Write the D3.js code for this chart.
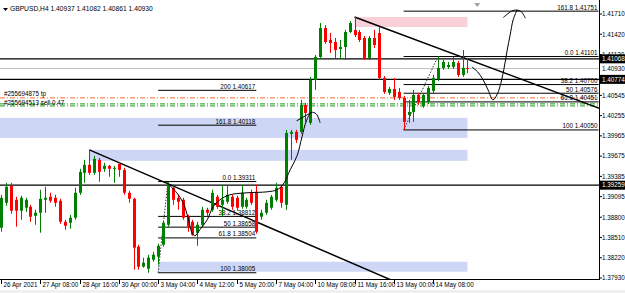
<!DOCTYPE html>
<html><head><meta charset="utf-8">
<script src="https://cdn.jsdelivr.net/npm/d3@7"></script>
<style>body{margin:0;background:#fff;} svg{display:block;font-family:"Liberation Sans",Arial,sans-serif;}</style>
</head><body><svg id="c" width="625" height="293"></svg>
<script>
// ---- data ----
const symbolTitle = "GBPUSD,H4";
const lastOHLC = [1.40937, 1.41082, 1.40861, 1.40930];
const opens = [1.38650,1.39007,1.39250,1.39050,1.38893,1.38936,1.38950,1.38821,1.38864,1.39050,
1.39093,1.39079,1.39036,1.38735,1.38721,1.38793,1.39150,1.39436,1.39550,1.39436,
1.39622,1.39493,1.39536,1.39493,1.39565,1.39479,1.39150,1.39064,1.38378,1.38092,
1.38063,1.38192,1.38235,1.38406,1.38692,1.39222,1.39079,1.39050,1.38807,1.38735,
1.38578,1.38692,1.38907,1.38907,1.39093,1.38978,1.39021,1.39093,1.39079,1.38950,
1.38950,1.39150,1.39164,1.38807,1.38864,1.38936,1.39050,1.39236,1.38978,1.39994,
1.40022,1.40022,1.40408,1.40151,1.40766,1.41095,1.41510,1.41338,1.41309,1.41209,
1.41238,1.41452,1.41481,1.41452,1.41367,1.41081,1.41367,1.41438,1.40795,1.40580,
1.40637,1.40594,1.40509,1.40265,1.40308,1.40551,1.40394,1.40451,1.40609,1.40780,
1.40938,1.40952,1.40952,1.41009,1.40837,1.40937];
const highs = [1.39121,1.39293,1.39293,1.39093,1.39107,1.39079,1.38978,1.38907,1.39193,1.39236,
1.39150,1.39121,1.39064,1.38764,1.38835,1.39222,1.39493,1.39622,1.39765,1.39679,
1.39651,1.39579,1.39550,1.39536,1.39593,1.39508,1.39179,1.39079,1.38406,1.38221,
1.38263,1.38306,1.38421,1.38750,1.39311,1.39250,1.39121,1.39079,1.38835,1.38764,
1.38735,1.38950,1.38936,1.39193,1.39121,1.39264,1.39264,1.39121,1.39107,1.39264,
1.39079,1.39193,1.39264,1.38907,1.39050,1.39121,1.39293,1.39264,1.40051,1.40051,
1.40051,1.40480,1.40437,1.40809,1.41123,1.41581,1.41552,1.41438,1.41367,1.41338,
1.41481,1.41610,1.41667,1.41481,1.41395,1.41395,1.41481,1.41524,1.40823,1.40666,
1.40795,1.40652,1.40537,1.40480,1.40623,1.40580,1.40580,1.40680,1.40837,1.41101,
1.41052,1.41023,1.41095,1.41038,1.41195,1.41082];
const lows = [1.38592,1.38964,1.38850,1.38664,1.38764,1.38878,1.38735,1.38692,1.38578,1.38864,
1.39007,1.38950,1.38707,1.38621,1.38635,1.38764,1.39121,1.39293,1.39407,1.39407,
1.39307,1.39450,1.39379,1.39293,1.39379,1.39121,1.39007,1.38049,1.38049,1.38078,
1.38005,1.38163,1.38120,1.38378,1.38664,1.38978,1.38907,1.38764,1.38592,1.38535,
1.38392,1.38664,1.38821,1.38878,1.38921,1.38807,1.38993,1.38907,1.38893,1.38921,
1.38921,1.38978,1.38564,1.38764,1.38835,1.38907,1.39021,1.38936,1.38907,1.39622,
1.39865,1.39994,1.40165,1.40122,1.40623,1.41066,1.41281,1.41152,1.41081,1.41066,
1.41052,1.41438,1.41381,1.41309,1.41052,1.41052,1.41224,1.40766,1.40566,1.40551,
1.40480,1.40480,1.40050,1.40151,1.40165,1.40408,1.40366,1.40423,1.40580,1.40752,
1.40909,1.40923,1.40923,1.40809,1.40809,1.40861];
const closes = [1.39079,1.39236,1.38893,1.38893,1.39079,1.39050,1.38807,1.38864,1.39064,1.39079,
1.39036,1.39007,1.38735,1.38678,1.38793,1.39150,1.39450,1.39550,1.39436,1.39636,
1.39450,1.39536,1.39493,1.39508,1.39479,1.39150,1.39064,1.38364,1.38092,1.38149,
1.38221,1.38263,1.38392,1.38721,1.39264,1.39050,1.39021,1.38793,1.38664,1.38549,
1.38692,1.38907,1.38864,1.39150,1.38950,1.39050,1.39121,1.38950,1.38936,1.39150,
1.39050,1.39007,1.38592,1.38864,1.39007,1.39093,1.39222,1.39007,1.40008,1.40022,
1.39908,1.40408,1.40294,1.40766,1.41095,1.41510,1.41309,1.41295,1.41195,1.41238,
1.41452,1.41581,1.41409,1.41338,1.41081,1.41367,1.41266,1.40795,1.40594,1.40637,
1.40523,1.40509,1.40165,1.40308,1.40551,1.40451,1.40551,1.40652,1.40795,1.40938,
1.41023,1.40980,1.41023,1.40837,1.40938,1.40930];

const timeTickBars = [0,8,16,24,32,40,48,56,64,72,80,88];
const timeTickLabels = ["26 Apr 2021","27 Apr 08:00","28 Apr 16:00","30 Apr 00:00","3 May 04:00","4 May 12:00","5 May 20:00","7 May 04:00","10 May 08:00","11 May 16:00","13 May 00:00","14 May 08:00"];
const priceTicks = [1.41710,1.41420,1.41130,1.40545,1.40255,1.39965,1.39675,1.39385,1.39095,1.38800,1.38510,1.38220,1.37930];

// horizontal levels
const hLinePrices = [1.41068, 1.40774, 1.39259];
const bidPrice = 1.40930;
const tpPrice = 1.40509, tpLabel = "#255694875 tp";
const orderPrices = [1.40423, 1.40394], orderLabel = "#255694513 sell 0.47";

// zones
const zoneStart = [-1, 18, 32, 72];
const zoneEnd = [95, 95, 95, 95];
const zoneTop = [1.40223, 1.39765, 1.38163, 1.41667];
const zoneBottom = [1.39937, 1.39608, 1.38020, 1.41524];
const zoneKind = ["blue","blue","blue","pink"];

// trend lines [bar1, price1, bar2, price2]
const trendA = [18, 1.39765, 79.5, 1.37900];
const trendB = [72, 1.41667, 122, 1.40355];

// fibonacci
const fibLeft = {bar100: 32, bar0: 34, p100: 1.38005, p0: 1.39311, end: 52, levels: [0,38.2,50,61.8,100,161.8,200]};
const fibRight = {bar100: 82, bar0: 89, p100: 1.40050, p0: 1.41101, end: 121.7, levels: [0,38.2,50,61.8,100,161.8]};

// hand-drawn paths [bar, price]
const sketchA = [[33.8,1.39293],[35.8,1.39150],[37.1,1.39007],[38.1,1.38793],[38.9,1.38578],[39.5,1.38535],[40.5,1.38621],[42,1.38764],[43.2,1.38950],[44.6,1.39050],[46.6,1.39121],[50.1,1.39150],[54.2,1.39164],[56.2,1.39193],[57.4,1.39264],[58.9,1.39479],[60.3,1.39680],[61.3,1.39950],[62.2,1.40180],[63.2,1.40300],[64.2,1.40280],[65,1.40151]];
const sketchA2 = [[60.2,1.40180],[63.2,1.40300]];
const sketchB = [[95.9,1.40952],[97.1,1.40880],[98.2,1.40766],[99.2,1.40623],[100.2,1.40480],[101,1.40551],[101.6,1.40666],[102.4,1.40909],[103.1,1.41195],[103.7,1.41410],[104.3,1.41624],[105.1,1.41767]];
const arrowHead = [[102.3,1.41660],[104.0,1.41750],[105.1,1.41767],[106.0,1.41740],[106.8,1.41650]];

// ---- drawing ----
const W = 625, H = 293, plotR = 599, plotB = 279;
const svg = d3.select("#c");
const x = d3.scaleLinear().domain([0, 122]).range([1, 600]);
const y = d3.scaleLinear().domain([1.37930, 1.41710]).range([278, 14]);
const FS = 6.3;

svg.append("rect").attr("width", W).attr("height", H).attr("fill", "#fff");
svg.append("rect").attr("x",0).attr("y",290).attr("width",W).attr("height",3).attr("fill","#f0f0f0");
svg.append("clipPath").attr("id","pc").append("rect").attr("x",0).attr("y",0).attr("width",plotR).attr("height",plotB);
const g = svg.append("g").attr("clip-path","url(#pc)");

// zones
zoneStart.forEach((s,i)=>{
  const x0 = s < 0 ? 0 : x(s);
  g.append("rect").attr("x",x0).attr("y",y(zoneTop[i])).attr("width",x(zoneEnd[i])-x0)
   .attr("height",y(zoneBottom[i])-y(zoneTop[i]))
   .attr("fill", zoneKind[i]==="blue" ? "#cdd7f5" : "#f9d0d8");
});

// full-width horizontal lines
g.append("line").attr("x1",0).attr("x2",plotR).attr("y1",Math.round(y(bidPrice))+0.5).attr("y2",Math.round(y(bidPrice))+0.5).attr("stroke","#c0c0c0").attr("stroke-width",1);
hLinePrices.forEach(p=>{
  g.append("line").attr("x1",0).attr("x2",plotR).attr("y1",y(p)).attr("y2",y(p)).attr("stroke","#000").attr("stroke-width",1.3);
});
g.append("line").attr("x1",0).attr("x2",plotR).attr("y1",y(tpPrice)).attr("y2",y(tpPrice)).attr("stroke","#ff6a2a").attr("stroke-width",1).attr("stroke-dasharray","5,2,1,2");
orderPrices.forEach(p=>{
  g.append("line").attr("x1",0).attr("x2",plotR).attr("y1",y(p)).attr("y2",y(p)).attr("stroke","#1a9a1a").attr("stroke-width",1).attr("stroke-dasharray","5,2,1,2");
});
g.append("text").attr("x",4).attr("y",y(tpPrice)-2).attr("font-size",FS).attr("fill","#000").text(tpLabel);
g.append("text").attr("x",4).attr("y",y(orderPrices[0])+1).attr("font-size",FS).attr("fill","#000").text(orderLabel);

// fibonacci (levels above 100 are projected beyond the 0 point)
function fibPrice(f, l){
  const rng = f.p0 - f.p100;
  return l <= 100 ? f.p0 - (l/100)*rng : f.p0 + ((l-100)/100)*rng;
}
function drawFib(f){
  const xs = x(f.bar100), xe = x(f.end);
  f.levels.forEach(l=>{
    const price = fibPrice(f,l);
    const yy = y(price);
    g.append("line").attr("x1",xs).attr("x2",xe).attr("y1",yy).attr("y2",yy).attr("stroke","#000").attr("stroke-width",1);
    const lbl = (l===0?"0.0":String(l)) + " " + price.toFixed(5);
    g.append("text").attr("x",xe-1).attr("y",yy-1.5).attr("text-anchor","end").attr("font-size",FS).attr("fill","#000").text(lbl);
  });
  g.append("line").attr("x1",x(f.bar100)).attr("y1",y(f.p100)).attr("x2",x(f.bar0)).attr("y2",y(f.p0))
   .attr("stroke","#333").attr("stroke-width",1).attr("stroke-dasharray","1.5,1.5");
}
drawFib(fibLeft); drawFib(fibRight);

// trend lines
[trendA, trendB].forEach(t=>{
  g.append("line").attr("x1",x(t[0])).attr("y1",y(t[1])).attr("x2",x(t[2])).attr("y2",y(t[3]))
   .attr("stroke","#000").attr("stroke-width",1.5);
});

// candles
const barW = 3;
opens.forEach((o,i)=>{
  const c = closes[i], up = c > o;
  const col = up ? "#008000" : "#ff0000";
  const cx = Math.round(x(i));
  g.append("line").attr("x1",cx+0.5).attr("x2",cx+0.5).attr("y1",y(highs[i])).attr("y2",y(lows[i])).attr("stroke",col).attr("stroke-width",1);
  const top = y(Math.max(o,c)), bot = y(Math.min(o,c));
  g.append("rect").attr("x",cx-1).attr("y",top).attr("width",barW).attr("height",Math.max(1,bot-top)).attr("fill",col);
});

// sketches
const line = d3.line().x(d=>x(d[0])).y(d=>y(d[1])).curve(d3.curveCatmullRom);
[sketchA, sketchA2, sketchB, arrowHead].forEach(s=>{
  g.append("path").attr("d",line(s)).attr("fill","none").attr("stroke","#000").attr("stroke-width",1);
});

// axes frame
svg.append("line").attr("x1",plotR+0.5).attr("x2",plotR+0.5).attr("y1",0).attr("y2",plotB).attr("stroke","#000");
svg.append("line").attr("x1",0).attr("x2",plotR+1).attr("y1",plotB+0.5).attr("y2",plotB+0.5).attr("stroke","#000");

// price axis
priceTicks.forEach(p=>{
  const yy = y(p);
  svg.append("line").attr("x1",plotR).attr("x2",plotR+3).attr("y1",yy).attr("y2",yy).attr("stroke","#000");
  svg.append("text").attr("x",602).attr("y",yy+2.3).attr("font-size",FS).attr("fill","#000").text(p.toFixed(5));
});
function priceBox(p, dark){
  const yy = y(p);
  svg.append("rect").attr("x",plotR+1).attr("y",yy-4.5).attr("width",W-plotR-1).attr("height",9).attr("fill",dark?"#000":"#fff");
  svg.append("text").attr("x",602).attr("y",yy+2.3).attr("font-size",FS).attr("fill",dark?"#fff":"#000").text(p.toFixed(5));
}
hLinePrices.forEach(p=>priceBox(p,true));
priceBox(bidPrice,false);

// time axis
timeTickBars.forEach((b,i)=>{
  const xx = Math.round(x(b))+0.5;
  svg.append("line").attr("x1",xx).attr("x2",xx).attr("y1",plotB).attr("y2",plotB+5).attr("stroke","#000");
  svg.append("text").attr("x",xx+2).attr("y",287).attr("font-size",FS).attr("fill","#000").text(timeTickLabels[i]);
});

// header
svg.append("path").attr("d","M3,8 L8,8 L5.5,11 Z").attr("fill","#000");
svg.append("text").attr("x",10).attr("y",11).attr("font-size",FS+0.4).attr("fill","#000")
  .text(symbolTitle + "  " + lastOHLC.map(v=>v.toFixed(5)).join(" "));
svg.append("path").attr("d",`M${x(97)-3},3 L${x(97)+3},3 L${x(97)},7 Z`).attr("fill","#a0a0a0");
</script></body></html>
